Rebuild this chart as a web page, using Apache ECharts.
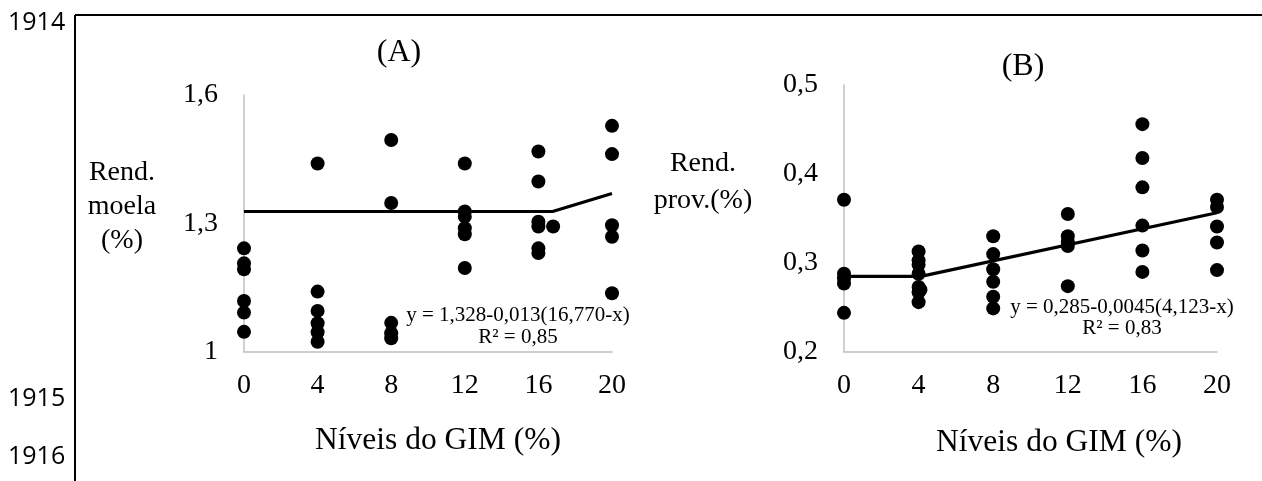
<!DOCTYPE html>
<html>
<head>
<meta charset="utf-8">
<script src="https://cdn.jsdelivr.net/npm/echarts@6/dist/echarts.min.js"></script>
<style>
  html, body { margin: 0; padding: 0; background: #fff; }
  #chart { width: 1262px; height: 481px; }
</style>
</head>
<body>
<div id="chart"></div>
<script>
// GIM inclusion levels (%) shown on both x axes
const gimLevels = [0, 4, 8, 12, 16, 20];

// (A) gizzard yield (%) per bird: [GIM level, yield]
const moelaPoints = [
  [0, 1.242], [0, 1.207], [0, 1.193], [0, 1.119], [0, 1.092], [0, 1.047],
  [4, 1.440], [4, 1.141], [4, 1.096], [4, 1.067], [4, 1.046], [4, 1.024],
  [8, 1.495], [8, 1.348], [8, 1.068], [8, 1.044], [8, 1.032],
  [12, 1.440], [12, 1.328], [12, 1.316], [12, 1.289], [12, 1.275], [12, 1.196],
  [16, 1.468], [16, 1.398], [16, 1.304], [16, 1.293], [16, 1.242], [16, 1.231],
  [16.8, 1.293],
  [20, 1.528], [20, 1.462], [20, 1.296], [20, 1.269], [20, 1.137]
];
// (A) broken-line fit: plateau then rise
const moelaFit = [[0, 1.328], [16.77, 1.328], [20, 1.370]];
const moelaTicks = { min: 1, max: 1.6, step: 0.3 };

// (B) proventriculus yield (%) per bird: [GIM level, yield]
const provPoints = [
  [0, 0.371], [0, 0.288], [0, 0.283], [0, 0.277], [0, 0.244],
  [4, 0.313], [4, 0.303], [4, 0.298], [4, 0.288], [4, 0.273], [4, 0.267], [4, 0.256],
  [4.1, 0.270],
  [8, 0.330], [8, 0.310], [8, 0.293], [8, 0.279], [8, 0.262], [8, 0.249],
  [12, 0.355], [12, 0.330], [12, 0.324], [12, 0.319], [12, 0.274],
  [16, 0.456], [16, 0.418], [16, 0.385], [16, 0.342], [16, 0.314], [16, 0.290],
  [20, 0.371], [20, 0.363], [20, 0.341], [20, 0.323], [20, 0.292]
];
// (B) broken-line fit: plateau then linear rise
const provFit = [[0, 0.285], [4.123, 0.285], [20, 0.3564]];
const provTicks = { min: 0.2, max: 0.5, step: 0.1 };

const serif = 'Liberation Serif';
const comma = v => String(+v.toFixed(2)).replace('.', ',');

function xAxisFor(gridIndex) {
  return {
    type: 'value', gridIndex,
    min: gimLevels[0], max: gimLevels[gimLevels.length - 1], interval: 4,
    splitLine: { show: false },
    axisTick: { show: false },
    axisLine: { lineStyle: { color: '#bfbfbf', width: 1.5 } },
    axisLabel: { color: '#000', fontFamily: serif, fontSize: 28, margin: 20 }
  };
}
function yAxisFor(gridIndex, t, labelPadTop) {
  return {
    type: 'value', gridIndex,
    min: t.min, max: t.max, interval: t.step,
    splitLine: { show: false },
    axisTick: { show: false },
    axisLine: { show: true, lineStyle: { color: '#bfbfbf', width: 1.5 } },
    axisLabel: {
      color: '#000', fontFamily: serif, fontSize: 28, margin: 26, formatter: comma,
      padding: [labelPadTop, 0, 0, 0]
    }
  };
}
function text(x, y, s, size, lineHeight) {
  const style = { text: s, fill: '#000', font: size + 'px "' + serif + '"', textAlign: 'center', textVerticalAlign: 'middle' };
  if (lineHeight) style.lineHeight = lineHeight;
  return { type: 'text', x, y, style };
}
function sideNumber(y, s) {
  return {
    type: 'text', x: 8, y,
    style: { text: s, fill: '#000', font: '25px "Open Sans"', textAlign: 'left', textVerticalAlign: 'middle' }
  };
}
function dots(gridIndex, data) {
  return {
    type: 'scatter', xAxisIndex: gridIndex, yAxisIndex: gridIndex, data,
    symbol: 'circle', symbolSize: 14, itemStyle: { color: '#000', opacity: 1 }, z: 3
  };
}
function fit(gridIndex, data) {
  return {
    type: 'line', xAxisIndex: gridIndex, yAxisIndex: gridIndex, data, symbol: 'none',
    lineStyle: { color: '#000', width: 3.2 }, z: 2
  };
}

const chart = echarts.init(document.getElementById('chart'));
chart.setOption({
  animation: false,
  backgroundColor: '#fff',
  grid: [
    { left: 244, top: 95, width: 368, height: 257, outerBoundsMode: 'none' },
    { left: 844, top: 85, width: 373, height: 267, outerBoundsMode: 'none' }
  ],
  xAxis: [xAxisFor(0), xAxisFor(1)],
  yAxis: [yAxisFor(0, moelaTicks, 2), yAxisFor(1, provTicks, 10)],
  series: [
    fit(0, moelaFit),
    dots(0, moelaPoints),
    fit(1, provFit),
    dots(1, provPoints)
  ],
  graphic: [
    // page frame
    { type: 'line', shape: { x1: 75, y1: 15, x2: 1262, y2: 15 }, style: { stroke: '#000', lineWidth: 2 } },
    { type: 'line', shape: { x1: 75, y1: 15, x2: 75, y2: 481 }, style: { stroke: '#000', lineWidth: 2 } },
    // line numbers in the margin
    sideNumber(23, '1914'),
    sideNumber(399, '1915'),
    sideNumber(457, '1916'),
    // panel titles
    text(399, 53, '(A)', 32),
    text(1023, 67, '(B)', 32),
    // axis titles
    text(438, 441, 'Níveis do GIM (%)', 31.5),
    text(1059, 443, 'Níveis do GIM (%)', 31.5),
    text(122, 207, 'Rend.\nmoela\n(%)', 28, 34),
    text(703, 182, 'Rend.\nprov.(%)', 28, 37),
    // regression equations
    text(518, 315, 'y = 1,328-0,013(16,770-x)', 21),
    text(518, 337, 'R² = 0,85', 21),
    text(1122, 307, 'y = 0,285-0,0045(4,123-x)', 21),
    text(1122, 328, 'R² = 0,83', 21)
  ]
});
</script>
</body>
</html>
